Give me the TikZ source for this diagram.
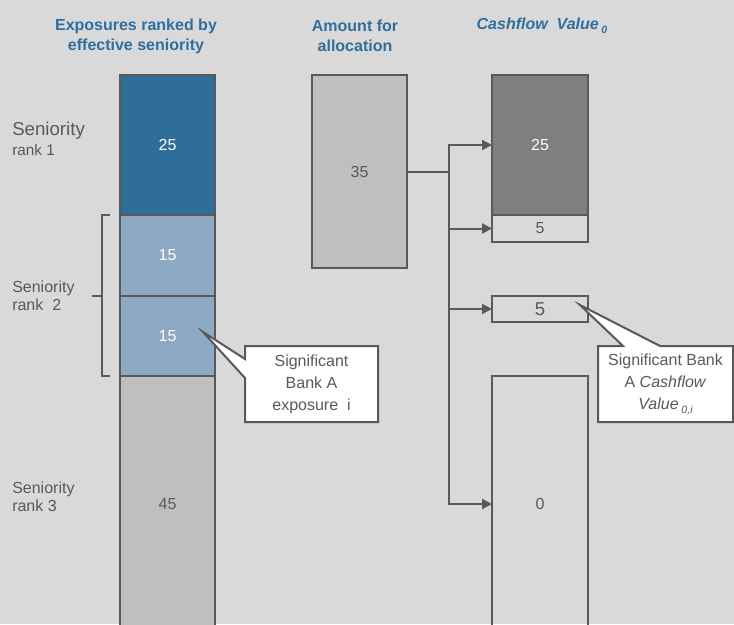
\documentclass[tikz,border=0pt]{standalone}
\usepackage{fontspec}
\setmainfont{Liberation Sans}
\usetikzlibrary{arrows.meta,calc}
\definecolor{bgcol}{HTML}{D9D9D9}
\definecolor{edge}{HTML}{595959}
\definecolor{dkblue}{HTML}{2E6E99}
\definecolor{ltblue}{HTML}{8DA9C4}
\definecolor{ltgray}{HTML}{BFBFBF}
\definecolor{dkgray}{HTML}{7F7F7F}
\definecolor{ttlblue}{HTML}{2F6F9F}

\begin{document}
\begin{tikzpicture}[x=0.75pt, y=-0.75pt,
    blk/.style={draw=edge, line width=1.5pt, outer sep=0pt, inner sep=0pt,
      minimum width=71.25pt, text=edge, font=\fontsize{12}{14}\selectfont},
    ttl/.style={text=ttlblue, align=center, font=\bfseries\fontsize{12}{15}\selectfont},
    lab/.style={text=edge, anchor=west, align=left, inner sep=0pt,
      font=\fontsize{12}{13.5}\selectfont},
    call/.style={draw=edge, line width=1.5pt, fill=white},
    note/.style={text=edge, align=center, inner sep=0pt, outer sep=0pt,
      font=\fontsize{12}{16.5}\selectfont},
    arr/.style={draw=edge, line width=1.5pt, -{Triangle[length=7.5pt,width=7.5pt]}}
  ]
  \fill[bgcol] (0,0) rectangle (734,624);
  \useasboundingbox (0,0) rectangle (734,624);
  \clip (0,0) rectangle (734,624);

  \node[ttl] (tExp) at (136,36) {Exposures ranked by\\effective seniority};
  \node[ttl] (tAmt) at (355,36) {Amount for\\allocation};
  \node[ttl] (tCf) at (542,26) {\itshape Cashflow~ Value\,\raisebox{-3pt}{\fontsize{8}{9}\selectfont 0}};

  \node[blk, fill=dkblue, text=white, minimum height=105pt] (r1) at (167.5,145) {25};
  \node[blk, fill=ltblue, text=white, minimum height=60.75pt] (r2a) at (167.5,255.5) {15};
  \node[blk, fill=ltblue, text=white, minimum height=60pt] (r2b) at (167.5,336) {15};
  \node[blk, fill=ltgray, minimum height=192pt] (r3) at (167.5,504) {45};

  \node[blk, fill=ltgray, minimum height=144.75pt] (amt) at (359.5,171.5) {35};

  \node[blk, fill=dkgray, text=white, minimum width=72pt, minimum height=105pt] (cf1) at (540,145) {25};
  \node[blk, minimum width=72pt, minimum height=20.25pt] (cf2) at (540,228.5) {5};
  \node[blk, minimum width=72pt, minimum height=19.5pt, font=\fontsize{14}{16}\selectfont] (cf3) at (540,309) {5};
  \node[blk, minimum width=72pt, minimum height=192pt] (cf4) at (540,504) {0};

  \node[lab, font=\fontsize{14}{16}\selectfont] (s1) at (12,131) {Seniority};
  \node[lab, font=\fontsize{11.5}{13}\selectfont] (k1) at (12,150) {rank 1};
  \node[lab] (s2) at (12,296) {Seniority\\rank~ 2};
  \node[lab] (s3) at (12,497) {Seniority\\rank 3};

  \draw[edge, line width=1.5pt] ($(r2a.north west)+(-10,0)$) -- ++(-8,0) |- ($(r3.north west)+(-10,0)$);
  \draw[edge, line width=1.5pt] (92,296) -- (102,296);

  \coordinate (split) at ($(amt.east)+(42,0)$);
  \draw[edge, line width=1.5pt] (amt.east) -- (split);
  \draw[arr] (split) |- (cf1.west);
  \draw[arr] (split) |- (cf2.west);
  \draw[arr] (split) |- (cf3.west);
  \draw[arr] (split) |- (cf4.west);

  \node[note, minimum width=99.75pt, minimum height=57pt] (nA) at (311.5,384) {};
  \coordinate (tipA) at (203,332);
  \draw[call] (nA.north west) -- (nA.north east) -- (nA.south east) -- (nA.south west)
    -- ($(nA.north west)+(0,32)$) -- (tipA) -- ($(nA.north west)+(0,13)$) -- cycle;
  \node[note] at (nA) {Significant\\Bank A\\exposure~ i};

  \node[note, minimum width=101.25pt, minimum height=57pt] (nB) at (665.5,384) {};
  \coordinate (tipB) at (580,305);
  \draw[call] (nB.north west) -- ($(nB.north west)+(25,0)$) -- (tipB) -- ($(nB.north west)+(62,0)$)
    -- (nB.north east) -- (nB.south east) -- (nB.south west) -- cycle;
  \node[note] at (nB) {Significant Bank\\A \textit{Cashflow}\\\textit{Value}\,\raisebox{-3pt}{\fontsize{8}{9}\selectfont\itshape 0,i}};
\end{tikzpicture}
\end{document}
